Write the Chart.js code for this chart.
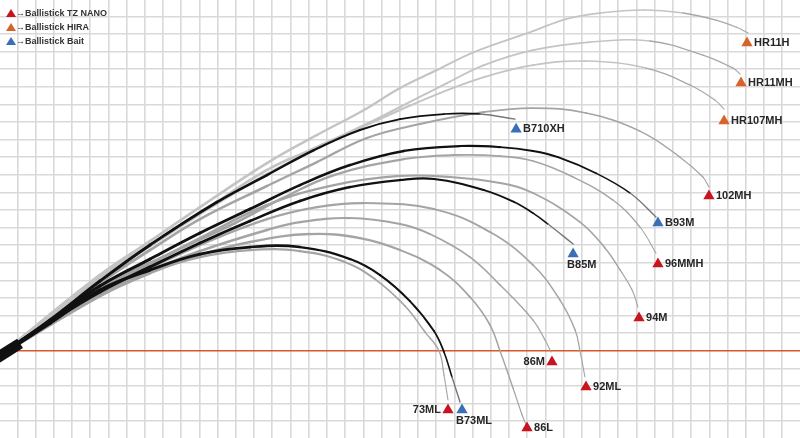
<!DOCTYPE html>
<html lang="ja">
<head>
<meta charset="UTF-8">
<title>Ballistick - bend curves</title>
<script src="https://cdn.jsdelivr.net/npm/chart.js@4"></script>
<style>
    body { margin: 0px; background: #ffffff; }
    .wrap { position: relative; width: 800px; height: 438px; }
</style>
</head>
<body>
<div class="wrap"><canvas id="bend"></canvas></div>

<script>
    // units: one square of the grid paper = 1, y = 0 on the red line
    const series = ['Ballistick TZ NANO', 'Ballistick HIRA', 'Ballistick Bait'];

    const models = ['HR11H', 'HR11MH', 'HR107MH', 'B710XH', '102MH', 'B93M', '96MMH',
                    'B85M', '94M', '92ML', '86M', '86L', 'B73ML', '73ML'];
    const modelSeries = [1, 1, 1, 2, 0, 2, 0, 2, 0, 0, 0, 0, 2, 0];

    // where each rod tip ends (marker)
    const tipX = [41.07, 40.74, 39.81, 28.39, 38.98, 36.18, 36.18, 31.52, 35.14, 32.23, 30.36, 28.99, 25.42, 24.65];
    const tipY = [17.48, 15.21, 13.05, 12.59, 8.79, 7.26, 4.93, 5.49, 1.86, -2.06, -0.64, -4.39, -3.37, -3.37];

    // bend curves
    const xHR11H = [0.00, 5.54, 8.29, 11.03, 14.71, 17.46, 20.04, 22.02, 24.05, 26.08, 29.32, 31.13, 33.00, 35.36, 37.56, 39.37, 40.47, 41.13];
    const yHR11H = [-0.30, 4.30, 6.23, 8.16, 10.66, 12.26, 13.68, 14.93, 15.95, 16.97, 18.16, 18.85, 19.19, 19.36, 19.19, 18.79, 18.39, 18.05];

    const xHR11MH = [0.00, 5.54, 8.29, 11.03, 14.71, 17.07, 19.82, 22.02, 24.60, 26.63, 29.32, 32.45, 35.74, 38.65, 40.30, 40.69];
    const yHR11MH = [-0.30, 4.19, 6.01, 7.82, 10.27, 11.40, 12.71, 13.85, 15.21, 16.23, 17.08, 17.54, 17.60, 16.80, 16.06, 15.72];

    const xHR107MH = [0.00, 5.54, 8.29, 11.03, 14.71, 17.29, 19.82, 22.02, 24.21, 26.63, 29.32, 32.23, 35.52, 37.94, 39.31, 39.81];
    const yHR107MH = [-0.30, 4.13, 5.95, 7.77, 10.04, 11.40, 12.65, 13.68, 14.64, 15.55, 16.23, 16.46, 16.06, 15.10, 14.24, 13.73];

    const xB710XH = [0.00, 2.80, 5.54, 8.29, 11.97, 14.71, 17.29, 19.82, 22.02, 24.43, 26.41, 28.33];
    const yB710XH = [-0.30, 1.74, 3.96, 6.01, 8.45, 9.98, 11.40, 12.54, 13.16, 13.45, 13.45, 13.16];

    const x102MH = [0.00, 5.54, 8.29, 11.03, 14.71, 17.46, 20.20, 23.11, 26.63, 29.32, 32.23, 35.19, 37.39, 38.65, 38.98];
    const y102MH = [-0.30, 3.85, 5.72, 7.48, 9.36, 10.72, 12.09, 12.88, 13.56, 13.79, 13.51, 12.48, 11.00, 9.87, 9.30];

    const xB93M = [0.00, 2.80, 5.54, 8.29, 11.03, 13.78, 16.52, 19.27, 22.23, 25.31, 27.51, 29.32, 30.69, 32.78, 34.65, 36.07];
    const yB93M = [-0.30, 1.69, 3.68, 5.21, 6.69, 8.05, 9.41, 10.55, 11.35, 11.63, 11.57, 11.35, 11.00, 10.09, 8.96, 7.60];

    const x96MMH = [0.00, 5.54, 9.55, 12.85, 15.59, 18.39, 22.23, 24.98, 27.51, 29.32, 31.52, 33.71, 35.19, 36.07];
    const y96MMH = [-0.30, 3.56, 5.60, 7.20, 8.68, 9.98, 10.89, 11.12, 11.06, 10.78, 9.87, 8.56, 7.03, 5.55];

    const xB85M = [0.00, 2.80, 5.54, 8.29, 11.03, 13.78, 16.52, 19.27, 22.02, 23.88, 26.63, 28.28, 29.32, 30.14, 31.52];
    const yB85M = [-0.30, 1.63, 3.34, 4.76, 6.12, 7.37, 8.51, 9.30, 9.70, 9.76, 9.13, 8.45, 7.82, 7.20, 6.06];

    const x94M = [0.00, 5.54, 8.29, 11.03, 14.71, 18.39, 22.02, 24.76, 27.51, 29.32, 31.90, 33.27, 34.10, 34.76, 35.08];
    const y94M = [-0.30, 3.45, 4.93, 6.40, 8.28, 9.41, 9.93, 9.87, 9.53, 8.96, 7.31, 5.84, 4.59, 3.45, 2.48];

    const x92ML = [0.00, 5.54, 8.29, 11.03, 14.71, 17.46, 20.04, 23.88, 26.96, 29.32, 30.80, 31.63, 31.90, 32.17];
    const y92ML = [-0.30, 3.34, 4.70, 6.01, 7.48, 8.16, 8.39, 8.05, 6.74, 4.87, 2.88, 1.18, -0.02, -1.49];

    const x86M = [0.00, 5.54, 8.29, 11.03, 14.71, 16.52, 19.27, 22.02, 23.66, 25.86, 27.51, 29.32, 29.98, 30.31];
    const y86M = [-0.30, 3.22, 4.53, 5.66, 6.86, 7.31, 7.54, 7.20, 6.63, 5.32, 3.73, 1.74, 0.61, -0.07];

    const x86L = [0.00, 5.54, 8.29, 11.03, 13.78, 17.07, 19.82, 22.02, 24.21, 25.86, 26.96, 27.51, 28.22, 28.72, 28.99];
    const y86L = [-0.30, 3.11, 4.41, 5.44, 6.18, 6.63, 6.40, 5.72, 4.59, 3.05, 1.46, -0.02, -2.12, -3.65, -4.34];

    const xB73ML = [0.00, 2.80, 5.54, 8.29, 11.03, 13.78, 16.52, 19.27, 20.92, 22.56, 23.88, 24.43, 24.87, 25.31];
    const yB73ML = [-0.30, 1.57, 3.45, 4.59, 5.49, 5.89, 5.89, 5.21, 4.30, 2.82, 1.12, -0.07, -1.49, -2.91];

    const x73ML = [0.00, 2.80, 5.54, 8.29, 11.03, 13.78, 16.52, 18.99, 20.64, 22.29, 23.39, 24.16, 24.43, 24.65];
    const y73ML = [-0.30, 1.57, 3.34, 4.47, 5.32, 5.72, 5.66, 5.04, 4.07, 2.54, 1.06, -0.02, -1.38, -2.80];

    // the grip at the butt
    const buttX = [-0.1, 1.15];
    const buttY = [-0.40, 0.42];

    const curveX = [xHR11H, xHR11MH, xHR107MH, xB710XH, x102MH, xB93M, x96MMH, xB85M, x94M, x92ML, x86M, x86L, xB73ML, x73ML];
    const curveY = [yHR11H, yHR11MH, yHR107MH, yB710XH, y102MH, yB93M, y96MMH, yB85M, y94M, y92ML, y86M, y86L, yB73ML, y73ML];

    // styles
    const markColors = ['#c8141f', '#d8632a', '#3a6fb7'];
    const lineColors = ['#a4a4a4', '#c4c4c4', '#111111'];
    const labelSide = ['right', 'right', 'right', 'right', 'right', 'right', 'right',
                       'below', 'right', 'right', 'left', 'right', 'below', 'left'];

    function toPoints(xs, ys) {
        return xs.map((v, i) => ({x: v, y: ys[i]}));
    }

    const datasets = [];

    // markers on top
    series.forEach((name, s) => {
        const pts = [];
        models.forEach((m, i) => {
            if (modelSeries[i] === s) pts.push({x: tipX[i], y: tipY[i]});
        });
        datasets.push({
            label: name,
            data: pts,
            showLine: false,
            pointStyle: 'triangle',
            pointRadius: 6.5,
            backgroundColor: markColors[s],
            borderWidth: 0,
            order: 0
        });
    });

    models.forEach((m, i) => {
        const s = modelSeries[i];
        const n = curveX[i].length;
        const bait = s === 2;
        const w0 = bait ? 3.4 : 3.0;
        const w1 = bait ? 1.4 : 1.1;
        datasets.push({
            label: m,
            data: toPoints(curveX[i], curveY[i]),
            showLine: true,
            pointRadius: 0,
            borderColor: lineColors[s],
            borderWidth: w0,
            borderCapStyle: 'round',
            tension: 0.4,
            segment: {
                borderWidth: c => w0 - (w0 - w1) * (c.p0DataIndex / (n - 2)),
                borderColor: c => (bait && c.p0DataIndex >= n - 2) ? '#777777' : (s === 1 && c.p0DataIndex >= n - 4 ? '#a8a8a8' : lineColors[s])
            },
            order: bait ? 1 : 2
        });
    });

    datasets.push({
        label: 'grip',
        data: toPoints(buttX, buttY),
        showLine: true,
        pointRadius: 0,
        borderColor: '#111111',
        borderWidth: 11,
        order: 1
    });

    const integerTicks = scale => {
        const t = [];
        for (let v = Math.ceil(scale.min); v <= Math.floor(scale.max); v++) t.push({value: v});
        scale.ticks = t;
    };

    const labels = {
        id: 'rodLabels',
        afterDatasetsDraw(chart) {
            const {ctx, scales: {x, y}} = chart;
            ctx.save();
            ctx.font = 'bold 11px "Liberation Sans", Arial, sans-serif';
            ctx.fillStyle = '#262626';
            ctx.textBaseline = 'middle';
            models.forEach((m, i) => {
                const px = x.getPixelForValue(tipX[i]);
                const py = y.getPixelForValue(tipY[i]);
                if (labelSide[i] === 'right') {
                    ctx.textAlign = 'left';
                    ctx.fillText(m, px + 7, py);
                } else if (labelSide[i] === 'left') {
                    ctx.textAlign = 'right';
                    ctx.fillText(m, px - 7, py);
                } else {
                    ctx.textAlign = 'left';
                    ctx.fillText(m, px - 6, py + 11);
                }
            });

            // key in the top left corner
            ctx.font = 'bold 9px "Liberation Sans", Arial, sans-serif';
            ctx.textAlign = 'left';
            series.forEach((name, s) => {
                const cy = 14 + s * 14;
                ctx.fillStyle = markColors[s];
                ctx.beginPath();
                ctx.moveTo(11, cy - 5);
                ctx.lineTo(16, cy + 3);
                ctx.lineTo(6, cy + 3);
                ctx.closePath();
                ctx.fill();
                ctx.fillStyle = '#333333';
                ctx.fillText('\u2192' + name, 16, cy);
            });
            ctx.restore();
        }
    };

    new Chart(document.getElementById('bend'), {
        type: 'scatter',
        data: {datasets: datasets},
        options: {
            responsive: true,
            maintainAspectRatio: false,
            animation: false,
            layout: {padding: 0, autoPadding: false},
            plugins: {legend: {display: false}, tooltip: {enabled: false}},
            scales: {
                x: {
                    type: 'linear',
                    min: 0.05,
                    max: 43.98,
                    afterBuildTicks: integerTicks,
                    ticks: {display: false},
                    border: {display: false},
                    grid: {color: '#d9d9d9', lineWidth: 1.6, drawTicks: false}
                },
                y: {
                    type: 'linear',
                    min: -4.96,
                    max: 19.93,
                    afterBuildTicks: integerTicks,
                    ticks: {display: false},
                    border: {display: false},
                    grid: {
                        color: c => (c.tick && c.tick.value === 0) ? '#d9572e' : '#d9d9d9',
                        lineWidth: 1.6,
                        drawTicks: false
                    }
                }
            }
        },
        plugins: [labels]
    });
</script>
</body>
</html>
